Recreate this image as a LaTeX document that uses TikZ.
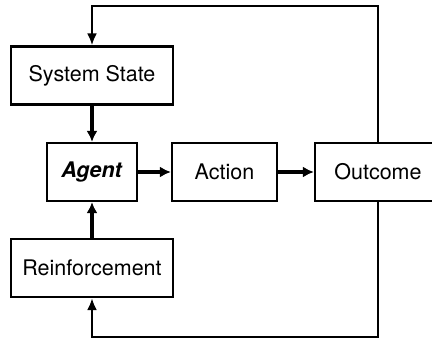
\documentclass[tikz,border=0pt]{standalone}
\usepackage{fontspec}
\setmainfont{TeX Gyre Heros}
\usetikzlibrary{arrows.meta}
\usetikzlibrary{positioning}
\tikzset{box/.style = {draw, line width = 2.2pt, inner sep = 0,
                       minimum height = 58, font = \fontsize{21.5}{25}\selectfont}}
\tikzset{flow/.style = {line width = 3.4pt, -{Latex[length = 11, width = 11]}}}
\tikzset{fb/.style = {line width = 2.3pt, line join = miter, -{Latex[length = 12, width = 10]}}}

\begin{document}
\begin{tikzpicture}[x = 1pt, y = 1pt]
      \useasboundingbox (0, 0) rectangle (432, 340);
      \node [box, minimum width = 162] (state) at (92, 264.5) {System State};
      \node [box, minimum width = 90] (agent) at (92, 168) {\textbf{\textit{Agent}}};
      \node [box, minimum width = 105] (action) at (224.5, 168) {Action};
      \node [box, minimum width = 126] (outcome) at (378, 168) {Outcome};
      \node [box, minimum width = 162] (reinf) at (92, 72) {Reinforcement};
      \draw [flow] (state) -- (agent);
      \draw [flow] (reinf) -- (agent);
      \draw [flow] (agent) -- (action);
      \draw [flow] (action) -- (outcome);
      \draw [fb] (outcome.north) -- ++(0, 136) -| (state.north);
      \draw [fb] (outcome.south) -- ++(0, -135) -| (reinf.south);
    \end{tikzpicture}
\end{document}
